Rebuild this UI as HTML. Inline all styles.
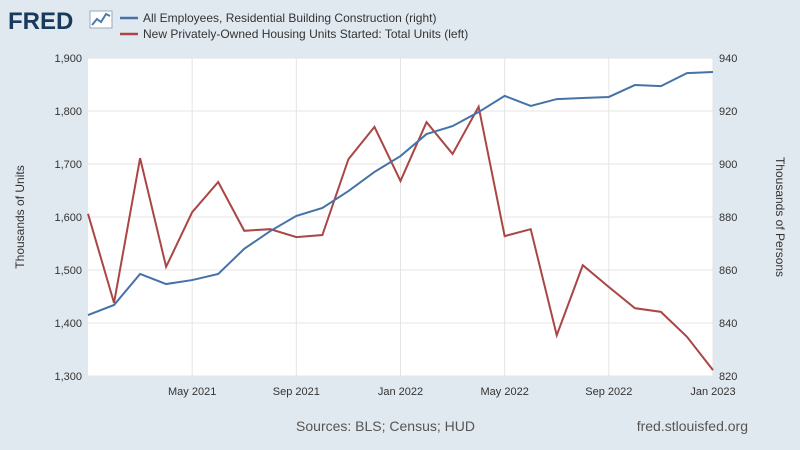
<!DOCTYPE html>
<html><head><meta charset="utf-8"><style>
body{margin:0;background:#e1e9f0;font-family:"Liberation Sans",sans-serif;}
svg{display:block}
</style></head><body>
<svg id="c" width="800" height="450">
<rect width="800" height="450" fill="#e1e9f0"/>
<text x="8" y="29" font-size="24" font-weight="bold" fill="#1a3a5c">FRED</text>
<g><rect x="90" y="11" width="22" height="17" fill="#fff" stroke="#9ab"/><polyline points="92,25 97,19 101,22 106,14 110,16" fill="none" stroke="#4a7ab0" stroke-width="2"/></g>
<g>
<line x1="120" y1="18" x2="138" y2="18" stroke="#4572a7" stroke-width="2.5"/>
<text x="143" y="22" font-size="12" fill="#333">All Employees, Residential Building Construction (right)</text>
<line x1="120" y1="34" x2="138" y2="34" stroke="#aa4643" stroke-width="2.5"/>
<text x="143" y="38" font-size="12" fill="#333">New Privately-Owned Housing Units Started: Total Units (left)</text>
</g>
<rect x="88" y="58" width="625" height="318" fill="#fff"/>
<g id="grid"></g><g id="axes"></g><g id="series"></g>
<text transform="translate(24,217) rotate(-90)" text-anchor="middle" font-size="12" fill="#333">Thousands of Units</text>
<text transform="translate(776,217) rotate(90)" text-anchor="middle" font-size="12" fill="#333">Thousands of Persons</text>
<text x="475" y="431" text-anchor="end" font-size="14" fill="#555">Sources: BLS; Census; HUD</text>
<text x="748" y="431" text-anchor="end" font-size="14" fill="#555">fred.stlouisfed.org</text>
</svg>
<script>
const housing=[1606,1438,1711,1506,1609,1666,1574,1577,1562,1566,1709,1770,1668,1779,1719,1808,1564,1577,1377,1509,1468,1428,1421,1374,1311];
const employees=[843,846.8,858.5,854.7,856.2,858.5,868,874.7,880.4,883.4,889.8,897,903,911.3,914.3,919.6,925.7,921.9,924.5,924.9,925.3,929.8,929.4,934.3,934.7];
const leftTicks=[1300,1400,1500,1600,1700,1800,1900];
const leftTickLabels=["1,300","1,400","1,500","1,600","1,700","1,800","1,900"];
const rightTicks=[820,840,860,880,900,920,940];
const xTickIdx=[4,8,12,16,20,24];
const xTickLabels=["May 2021","Sep 2021","Jan 2022","May 2022","Sep 2022","Jan 2023"];
const X0=88,X1=713,Y0=376,Y1=58;
const xs=i=>X0+(X1-X0)*i/(housing.length-1);
const yl=v=>Y0-(v-1300)/600*(Y0-Y1);
const yr=v=>Y0-(v-820)/120*(Y0-Y1);
const NS="http://www.w3.org/2000/svg";
function mk(t,a,p){const e=document.createElementNS(NS,t);for(const k in a)e.setAttribute(k,a[k]);p.appendChild(e);return e;}
const grid=document.getElementById('grid'),axes=document.getElementById('axes'),ser=document.getElementById('series');
leftTicks.forEach((v,i)=>{
 const g=mk('line',{x1:X0,x2:X1,y1:yl(v),y2:yl(v),stroke:'#e4e4e4'},grid);
 
 
 const t=mk('text',{x:X0-6,y:yl(v)+4,'text-anchor':'end','font-size':11,fill:'#333'},axes);t.textContent=leftTickLabels[i];
 
 
});
rightTicks.forEach(v=>{
 const t=mk('text',{x:X1+6,y:yr(v)+4,'font-size':11,fill:'#333'},axes);t.textContent=v;
 
 
});
xTickIdx.forEach((idx,i)=>{
 const g=mk('line',{x1:xs(idx),x2:xs(idx),y1:Y1,y2:Y0,stroke:'#e4e4e4'},grid);
 
 
 const t=mk('text',{x:xs(idx),y:Y0+19,'text-anchor':'middle','font-size':11,fill:'#333'},axes);t.textContent=xTickLabels[i];
 
 
});
const r=mk('polyline',{points:housing.map((v,i)=>xs(i)+','+yl(v)).join(' '),fill:'none',stroke:'#aa4643','stroke-width':2},ser);


const b=mk('polyline',{points:employees.map((v,i)=>xs(i)+','+yr(v)).join(' '),fill:'none',stroke:'#4572a7','stroke-width':2},ser);


</script>
</body></html>
